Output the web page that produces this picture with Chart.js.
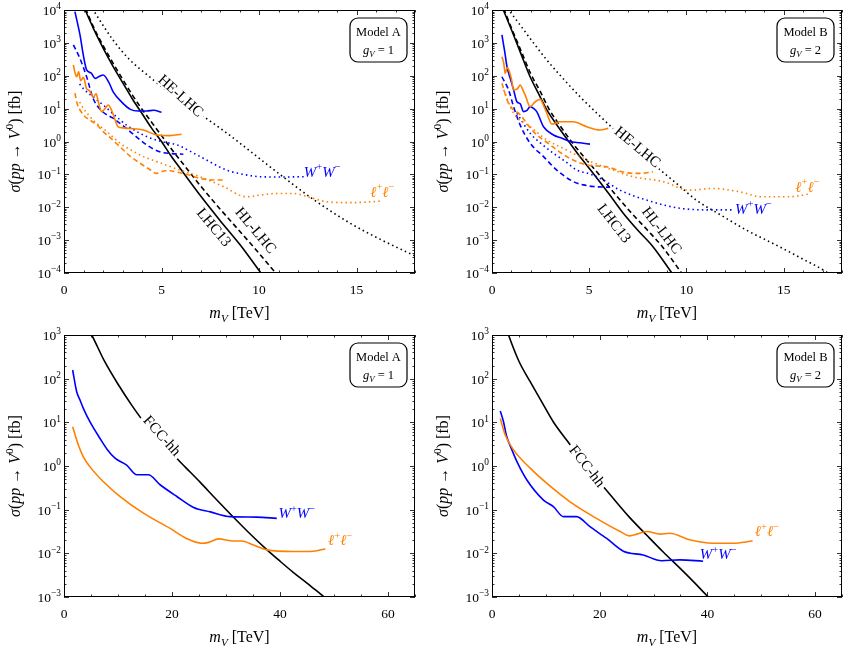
<!DOCTYPE html>
<html><head><meta charset="utf-8">
<script src="https://cdn.jsdelivr.net/npm/chart.js@4.4.1/dist/chart.umd.min.js"></script>
<style>
html,body{margin:0;padding:0;background:#fff;width:850px;height:655px;overflow:hidden}
canvas{position:absolute}
</style></head><body>
<canvas id="c1" width="425" height="327" style="left:0;top:0"></canvas>
<canvas id="c2" width="425" height="327" style="left:425px;top:0"></canvas>
<canvas id="c3" width="425" height="328" style="left:0;top:327px"></canvas>
<canvas id="c4" width="425" height="328" style="left:425px;top:327px"></canvas>
<script>
// ---------------- DATA (mass in TeV, cross section in fb) ----------------
// Model A, LHC panel
const mA_LHC13 = [1.05, 1.5, 2.0, 2.5, 3.0, 3.5, 4.0, 4.5, 5.0, 5.5, 6.0, 7.0, 8.0, 9.0, 10.1];
const sA_LHC13 = [1.12e4, 2820, 708, 200, 63, 20, 7.08, 2.51, 1.0, 0.355, 0.141, 0.0224, 3.98e-3, 7.6e-4, 1e-4];
const mA_HLLHC = [1.1, 1.5, 2.0, 2.5, 3.0, 3.5, 4.0, 4.5, 5.0, 5.5, 6.0, 7.0, 8.0, 9.0, 10.0, 10.85];
const sA_HLLHC = [1.12e4, 3160, 832, 251, 79.4, 26.3, 9.55, 3.8, 1.51, 0.603, 0.251, 0.0447, 8.9e-3, 1.9e-3, 3.98e-4, 1e-4];
const mA_HELHC = [1.45, 2.51, 3.38, 4.41, 5.43, 6.97, 8.35, 9.02, 10.92, 12.76, 14.66, 16.2, 18.0];
const sA_HELHC = [1.1e4, 1230, 302, 91, 30, 6.9, 1.8, 0.89, 0.117, 0.0178, 3.3e-3, 1.07e-3, 3.3e-4];
const mA_WW_now = [0.56, 0.82, 1.0, 1.16, 1.4, 1.59, 1.8, 2.01, 2.3, 2.53, 2.96, 3.4, 3.81, 4.24, 4.6, 5.0];
const sA_WW_now = [8910, 1740, 398, 151, 120, 83, 95, 105, 63, 31.6, 15.8, 9.5, 8.5, 8.5, 8.9, 7.8];
const mA_WW_HL = [0.48, 0.8, 1.16, 1.5, 2.0, 2.5, 3.2, 3.9, 4.5, 5.0, 5.5, 6.12];
const sA_WW_HL = [871, 355, 93, 20, 7.9, 5.2, 2.5, 1.12, 0.63, 0.47, 0.43, 0.41];
const mA_WW_HE = [0.8, 1.0, 1.5, 2.01, 2.6, 3.21, 4.24, 5.0, 5.78, 6.97, 8.34, 9.2, 10.05, 11.2, 12.35];
const sA_WW_HE = [56, 40, 22.4, 12.9, 6.3, 3.16, 1.41, 1.0, 0.79, 0.35, 0.135, 0.1, 0.085, 0.083, 0.085];
const mA_LL_now = [0.48, 0.56, 0.65, 0.75, 0.85, 1.0, 1.16, 1.3, 1.5, 1.65, 1.76, 1.93, 2.1, 2.27, 2.4, 2.53, 2.78, 3.0, 3.38, 4.07, 4.75, 5.43, 6.03];
const sA_LL_now = [214, 126, 93, 132, 71, 89, 40, 35.5, 22.4, 28.2, 16.2, 8.1, 10, 12.9, 10, 6.5, 2.8, 2.6, 2.5, 2.24, 1.58, 1.51, 1.66];
const mA_LL_HL = [0.56, 0.7, 0.82, 1.0, 1.33, 1.7, 2.01, 2.4, 2.87, 3.4, 3.9, 4.4, 4.75, 5.1, 5.43, 5.8, 6.12, 6.97, 7.6, 8.17];
const sA_LL_HL = [29.5, 12.6, 9.1, 6.3, 4.47, 3.16, 2.0, 1.26, 0.69, 0.355, 0.219, 0.141, 0.107, 0.126, 0.129, 0.117, 0.107, 0.0759, 0.0676, 0.0676];
const mA_LL_HE = [0.8, 1.0, 1.5, 2.2, 2.87, 3.5, 4.07, 4.8, 5.43, 6.2, 6.97, 8.17, 9.36, 10.2, 10.9, 11.75, 12.6, 13.46, 14.83, 15.6, 16.28];
const sA_LL_HE = [15.8, 10, 4.47, 2.0, 0.891, 0.525, 0.347, 0.24, 0.174, 0.12, 0.0851, 0.0427, 0.0209, 0.024, 0.0263, 0.0263, 0.02, 0.0148, 0.0138, 0.0145, 0.0155];

// Model B, LHC panel
const mB_LHC13 = [0.55, 1.0, 1.5, 1.96, 2.4, 2.82, 3.4, 4.01, 4.6, 5.21, 6.0, 6.75, 7.5, 8.28, 9.25];
const sB_LHC13 = [1.12e4, 2510, 447, 93.3, 28.2, 9.12, 2.82, 0.891, 0.302, 0.107, 0.0263, 6.61e-3, 2.0e-3, 6.31e-4, 1e-4];
const mB_HLLHC = [0.6, 1.0, 1.5, 2.0, 2.5, 2.92, 3.5, 4.15, 4.8, 5.46, 6.3, 7.18, 8.0, 8.76, 9.75];
const sB_HLLHC = [1.12e4, 2820, 562, 112, 31.6, 10, 3.02, 0.891, 0.302, 0.107, 0.0263, 6.61e-3, 2.0e-3, 6.31e-4, 1e-4];
const mB_HELHC = [0.8, 1.5, 2.2, 2.82, 3.6, 4.53, 5.5, 6.5, 7.5, 8.46, 9.5, 10.5, 11.8, 13.07, 14.78, 16.0, 17.17, 17.6];
const sB_HELHC = [1.12e4, 3160, 891, 302, 89.1, 22.9, 6.31, 1.78, 0.562, 0.17, 0.0525, 0.0166, 5.62e-3, 2.04e-3, 6.31e-4, 2.63e-4, 1.1e-4, 7e-5];
const mB_WW_now = [0.51, 0.65, 0.77, 0.95, 1.11, 1.28, 1.45, 1.62, 1.8, 1.96, 2.15, 2.3, 2.65, 3.16, 3.6, 4.01, 4.53, 5.04];
const sB_WW_now = [1740, 562, 191, 79.4, 37.2, 16.2, 14.1, 8.13, 8.91, 11.5, 10, 8.13, 2.82, 1.58, 1.26, 1.0, 0.912, 0.832];
const mB_WW_HL = [0.51, 0.85, 1.11, 1.45, 1.96, 2.65, 3.33, 4.18, 4.7, 5.21, 6.06];
const sB_WW_HL = [93.3, 37.2, 11.5, 3.16, 0.891, 0.347, 0.135, 0.0603, 0.0479, 0.0427, 0.0407];
const mB_WW_HE = [1.28, 1.96, 2.5, 3.16, 3.8, 4.36, 5.0, 5.72, 6.58, 7.94, 9.65, 11.36, 12.38];
const sB_WW_HE = [7.24, 1.78, 0.891, 0.437, 0.24, 0.135, 0.105, 0.0676, 0.0331, 0.0166, 9.33e-3, 8.32e-3, 8.32e-3];
const mB_LL_now = [0.51, 0.6, 0.68, 0.78, 0.85, 1.0, 1.11, 1.3, 1.45, 1.6, 1.71, 1.96, 2.22, 2.48, 2.65, 2.82, 3.08, 3.5, 4.18, 4.87, 5.55, 5.98];
const sB_LL_now = [380, 251, 117, 178, 158, 79.4, 37.2, 39.8, 52.5, 35.5, 25.7, 11.5, 16.2, 19.1, 12.6, 7.24, 3.39, 3.98, 3.98, 2.82, 2.24, 2.51];
const mB_LL_HL = [0.51, 0.85, 1.45, 2.13, 2.99, 3.84, 4.87, 5.89, 6.92, 7.6, 8.28];
const sB_LL_HL = [58.9, 14.5, 6.46, 2.0, 0.794, 0.347, 0.195, 0.17, 0.112, 0.107, 0.12];
const mB_LL_HE = [0.6, 1.11, 1.96, 2.82, 3.84, 4.87, 6.23, 7.26, 8.8, 10.16, 11.36, 12.74, 13.85, 15.29, 16.31];
const sB_LL_HE = [37.2, 7.24, 2.82, 1.12, 0.55, 0.275, 0.135, 0.0851, 0.0603, 0.0331, 0.0372, 0.0295, 0.0209, 0.0209, 0.0251];

// Model A, FCC-hh panel
const mA_FCC = [4.5, 5.13, 7.5, 10.07, 12.5, 14.7, 17.0, 19.65, 22.5, 25.2, 28.0, 30.8, 34.0, 37.6, 40.0, 42.5, 45.0, 48.1, 48.6];
const sA_FCC = [1350, 1000, 251, 72.4, 25.1, 10.5, 4.79, 2.14, 0.933, 0.427, 0.182, 0.0794, 0.0316, 0.012, 6.61e-3, 3.63e-3, 2.09e-3, 1.02e-3, 9.12e-4];
const mA_WW_FCC = [1.6, 2.35, 3.0, 3.58, 4.82, 6.67, 8.0, 9.45, 11.6, 13.5, 15.6, 17.8, 20.9, 24.0, 27.1, 30.8, 35.7, 39.4];
const sA_WW_FCC = [158, 50.1, 31.6, 20.9, 10.2, 4.27, 2.4, 1.51, 1.05, 0.631, 0.631, 0.372, 0.2, 0.112, 0.0891, 0.0692, 0.0676, 0.0631];
const mA_LL_FCC = [1.6, 2.66, 3.58, 4.82, 7.3, 10.4, 14.7, 19.65, 22.7, 25.5, 26.8, 28.6, 31.4, 32.9, 35.1, 37.6, 42.5, 46.2, 48.4];
const sA_LL_FCC = [7.94, 3.02, 1.62, 0.955, 0.437, 0.2, 0.0832, 0.0372, 0.0219, 0.017, 0.0178, 0.0214, 0.0191, 0.0191, 0.0155, 0.012, 0.011, 0.0112, 0.0126];

// Model B, FCC-hh panel
const mB_FCC = [2.8, 3.07, 5.0, 7.09, 9.0, 11.4, 14.0, 16.35, 19.5, 22.5, 25.5, 28.7, 31.8, 34.9, 37.5, 40.1, 40.5];
const sB_FCC = [1260, 1000, 251, 85.1, 33.1, 10.2, 3.72, 1.51, 0.501, 0.182, 0.0676, 0.0263, 0.0107, 4.57e-3, 2.19e-3, 1.02e-3, 9.12e-4];
const mB_WW_FCC = [1.54, 2.15, 2.65, 3.7, 4.63, 6.48, 9.56, 11.4, 13.3, 15.7, 18.2, 21.3, 24.4, 28.1, 31.5, 34.9, 39.2];
const sB_WW_FCC = [18.2, 10.2, 5.13, 2.34, 1.26, 0.479, 0.166, 0.117, 0.0692, 0.0692, 0.0407, 0.0219, 0.0112, 9.12e-3, 6.76e-3, 7.08e-3, 6.61e-3];
const mB_LL_FCC = [1.54, 2.46, 4.0, 7.09, 10.2, 14.5, 19.4, 23.8, 25.6, 26.9, 28.7, 31.2, 33.0, 36.7, 41.0, 44.7, 48.4];
const sB_LL_FCC = [12.3, 5.13, 2.34, 0.891, 0.398, 0.151, 0.0631, 0.0316, 0.0251, 0.0275, 0.0316, 0.0275, 0.0288, 0.0204, 0.017, 0.017, 0.0191];

// axis ticks
const xTicksLHC = [0, 5, 10, 15];
const xTicksFCC = [0, 20, 40, 60];
const yExpLHC = [-4, -3, -2, -1, 0, 1, 2, 3, 4];
const yExpFCC = [-3, -2, -1, 0, 1, 2, 3];
const modelNames = ['Model A', 'Model B'];
const gValues = ['1', '2'];

// ---------------- STYLE ----------------
const FF = '"Liberation Serif","DejaVu Serif",serif';
const BLUE = 'rgb(0,0,255)', ORANGE = 'rgb(255,128,0)', BLACK = '#000';
const DASH = [5, 3.2], DOT = [1.5, 3.2];

function series(xs, ys, color, dash) {
  return { data: xs.map((x, i) => ({ x: x, y: ys[i] })), borderColor: color, borderWidth: 1.6,
    borderDash: dash || [], pointRadius: 0, fill: false, cubicInterpolationMode: 'monotone' };
}
function segFont(s, size) {
  const sz = (s.sup || s.sub) ? size * 0.7 : size;
  return (s.i ? 'italic ' : '') + sz.toFixed(1) + 'px ' + FF;
}
function richWidth(ctx, segs, size) {
  let w = 0;
  for (const s of segs) { ctx.font = segFont(s, size); w += ctx.measureText(s.t).width; }
  return w;
}
function drawRich(ctx, segs, x, y, size, color, align) {
  const w = richWidth(ctx, segs, size);
  let cx = align === 'center' ? x - w / 2 : align === 'right' ? x - w : x;
  ctx.fillStyle = color; ctx.textBaseline = 'alphabetic';
  for (const s of segs) {
    ctx.font = segFont(s, size);
    const dy = s.sup ? -size * 0.42 : s.sub ? size * 0.22 : 0;
    ctx.fillText(s.t, cx, y + dy);
    cx += ctx.measureText(s.t).width;
  }
}
const WW = [{ t: 'W', i: true }, { t: '+', sup: true }, { t: 'W', i: true }, { t: '\u2212', sup: true }];
const LL = [{ t: '\u2113', i: true }, { t: '+', sup: true }, { t: '\u2113', i: true }, { t: '\u2212', sup: true }];
const txt = s => [{ t: s }];

function makePanel(P) {
  const plugin = {
    id: 'panel' + P.id,
    afterDatasetsDraw(chart) {
      const ctx = chart.ctx, a = chart.chartArea, xs = chart.scales.x, ys = chart.scales.y;
      ctx.save();
      // curve labels
      for (const L of P.labels) {
        const px = xs.getPixelForValue(L.x), py = ys.getPixelForValue(L.y);
        ctx.save(); ctx.translate(px, py); ctx.rotate((L.rot || 0) * Math.PI / 180);
        if (L.bg) {
          const w = richWidth(ctx, L.segs, L.size);
          ctx.fillStyle = '#fff';
          ctx.fillRect(-w / 2 - 3, -L.size * 0.45, w + 6, L.size * 0.9);
        }
        drawRich(ctx, L.segs, 0, L.size * 0.33, L.size, L.color, L.align || 'center');
        ctx.restore();
      }
      // frame
      ctx.strokeStyle = '#000'; ctx.lineWidth = 1;
      ctx.strokeRect(a.left + 0.5, a.top + 0.5, a.right - a.left - 1, a.bottom - a.top - 1);
      // ticks
      ctx.lineWidth = 0.8; ctx.beginPath();
      for (let v = 0; v <= P.xMax + 1e-9; v += P.xMinor) {
        const px = Math.round(xs.getPixelForValue(v)) + 0.5;
        const len = (Math.abs(v / P.xMajor - Math.round(v / P.xMajor)) < 1e-6) ? 5 : 2.5;
        ctx.moveTo(px, a.bottom); ctx.lineTo(px, a.bottom - len);
        ctx.moveTo(px, a.top); ctx.lineTo(px, a.top + len);
      }
      for (let k = P.yExp[0]; k <= P.yExp[P.yExp.length - 1]; k++) {
        for (let m = 1; m <= 9; m++) {
          const v = m * Math.pow(10, k);
          if (v > P.yMax * 1.0001) break;
          const py = Math.round(ys.getPixelForValue(v)) + 0.5;
          const len = m === 1 ? 5 : 2.5;
          ctx.moveTo(a.left, py); ctx.lineTo(a.left + len, py);
          ctx.moveTo(a.right, py); ctx.lineTo(a.right - len, py);
        }
      }
      ctx.stroke();
      // tick labels
      for (const v of P.xTicks) {
        drawRich(ctx, txt(String(v)), xs.getPixelForValue(v), a.bottom + 21, 13.5, '#000', 'center');
      }
      for (const e of P.yExp) {
        const py = ys.getPixelForValue(Math.pow(10, e));
        const es = e < 0 ? '\u2212' + (-e) : String(e);
        drawRich(ctx, [{ t: '10' }, { t: es, sup: true }], a.left - 3, py + 5, 13.5, '#000', 'right');
      }
      // axis titles
      drawRich(ctx, [{ t: 'm', i: true }, { t: 'V', i: true, sub: true }, { t: ' [TeV]' }],
        (a.left + a.right) / 2, a.bottom + 45, 16, '#000', 'center');
      ctx.save(); ctx.translate(a.left - 44, (a.top + a.bottom) / 2); ctx.rotate(-Math.PI / 2);
      drawRich(ctx, [{ t: '\u03C3', i: true }, { t: '(' }, { t: 'pp', i: true }, { t: ' \u2192 ' },
        { t: 'V', i: true }, { t: '0', sup: true }, { t: ') [fb]' }], 0, 0, 16, '#000', 'center');
      ctx.restore();
      // model box
      const bw = 57, bh = 44, bx = a.right - 8 - bw, by = a.top + 8;
      ctx.beginPath(); ctx.lineWidth = 1.2; ctx.strokeStyle = '#000'; ctx.fillStyle = '#fff';
      ctx.roundRect(bx, by, bw, bh, 8); ctx.fill(); ctx.stroke();
      drawRich(ctx, txt(P.model), bx + bw / 2, by + 18, 12.5, '#000', 'center');
      drawRich(ctx, [{ t: 'g', i: true }, { t: 'V', i: true, sub: true }, { t: ' = ' + P.g }], bx + bw / 2, by + 36, 12.5, '#000', 'center');
      ctx.restore();
    }
  };
  return new Chart(document.getElementById(P.id), {
    type: 'line',
    data: { datasets: P.datasets },
    options: {
      responsive: false, animation: false, devicePixelRatio: 1,
      layout: { padding: P.pad },
      scales: {
        x: { type: 'linear', min: 0, max: P.xMax, ticks: { display: false }, grid: { display: false },
             border: { display: false }, afterFit(s) { s.height = P.xH; } },
        y: { type: 'logarithmic', min: P.yMin, max: P.yMax, ticks: { display: false }, grid: { display: false },
             border: { display: false }, afterFit(s) { s.width = P.yW; } }
      },
      plugins: { legend: { display: false }, tooltip: { enabled: false } }
    },
    plugins: [plugin]
  });
}

makePanel({
  id: 'c1', pad: { left: 0, right: 10, top: 10, bottom: 0 }, yW: 64, xH: 54,
  xMax: 18, xMajor: 5, xMinor: 1, xTicks: xTicksLHC, yMin: 1e-4, yMax: 1e4, yExp: yExpLHC,
  model: modelNames[0], g: gValues[0],
  datasets: [
    series(mA_LL_HE, sA_LL_HE, ORANGE, DOT), series(mA_LL_HL, sA_LL_HL, ORANGE, DASH), series(mA_LL_now, sA_LL_now, ORANGE),
    series(mA_WW_HE, sA_WW_HE, BLUE, DOT), series(mA_WW_HL, sA_WW_HL, BLUE, DASH), series(mA_WW_now, sA_WW_now, BLUE),
    series(mA_HELHC, sA_HELHC, BLACK, DOT), series(mA_HLLHC, sA_HLLHC, BLACK, DASH), series(mA_LHC13, sA_LHC13, BLACK)
  ],
  labels: [
    { segs: txt('HE-LHC'), x: 6.0, y: 25, rot: 42, size: 15, color: '#000', bg: true },
    { segs: txt('LHC13'), x: 7.7, y: 2.5e-3, rot: 50, size: 15, color: '#000' },
    { segs: txt('HL-LHC'), x: 9.85, y: 2.0e-3, rot: 50, size: 15, color: '#000' },
    { segs: WW, x: 12.3, y: 0.12, size: 15, color: BLUE, align: 'left' },
    { segs: LL, x: 15.7, y: 0.03, size: 15, color: ORANGE, align: 'left' }
  ]
});
makePanel({
  id: 'c2', pad: { left: 0, right: 8, top: 10, bottom: 0 }, yW: 67, xH: 54,
  xMax: 18, xMajor: 5, xMinor: 1, xTicks: xTicksLHC, yMin: 1e-4, yMax: 1e4, yExp: yExpLHC,
  model: modelNames[1], g: gValues[1],
  datasets: [
    series(mB_LL_HE, sB_LL_HE, ORANGE, DOT), series(mB_LL_HL, sB_LL_HL, ORANGE, DASH), series(mB_LL_now, sB_LL_now, ORANGE),
    series(mB_WW_HE, sB_WW_HE, BLUE, DOT), series(mB_WW_HL, sB_WW_HL, BLUE, DASH), series(mB_WW_now, sB_WW_now, BLUE),
    series(mB_HELHC, sB_HELHC, BLACK, DOT), series(mB_HLLHC, sB_HLLHC, BLACK, DASH), series(mB_LHC13, sB_LHC13, BLACK)
  ],
  labels: [
    { segs: txt('HE-LHC'), x: 7.5, y: 0.7, rot: 40, size: 15, color: '#000', bg: true },
    { segs: txt('LHC13'), x: 6.3, y: 3.3e-3, rot: 52, size: 15, color: '#000' },
    { segs: txt('HL-LHC'), x: 8.75, y: 2.0e-3, rot: 52, size: 15, color: '#000' },
    { segs: WW, x: 12.5, y: 9e-3, size: 15, color: BLUE, align: 'left' },
    { segs: LL, x: 15.6, y: 0.042, size: 15, color: ORANGE, align: 'left' }
  ]
});
makePanel({
  id: 'c3', pad: { left: 0, right: 10, top: 8, bottom: 0 }, yW: 64, xH: 58,
  xMax: 65, xMajor: 20, xMinor: 5, xTicks: xTicksFCC, yMin: 1e-3, yMax: 1e3, yExp: yExpFCC,
  model: modelNames[0], g: gValues[0],
  datasets: [
    series(mA_LL_FCC, sA_LL_FCC, ORANGE), series(mA_WW_FCC, sA_WW_FCC, BLUE), series(mA_FCC, sA_FCC, BLACK)
  ],
  labels: [
    { segs: txt('FCC-hh'), x: 18.2, y: 5.0, rot: 48, size: 15, color: '#000', bg: true },
    { segs: WW, x: 39.7, y: 0.083, size: 15, color: BLUE, align: 'left' },
    { segs: LL, x: 48.9, y: 0.02, size: 15, color: ORANGE, align: 'left' }
  ]
});
makePanel({
  id: 'c4', pad: { left: 0, right: 8, top: 8, bottom: 0 }, yW: 67, xH: 58,
  xMax: 65, xMajor: 20, xMinor: 5, xTicks: xTicksFCC, yMin: 1e-3, yMax: 1e3, yExp: yExpFCC,
  model: modelNames[1], g: gValues[1],
  datasets: [
    series(mB_LL_FCC, sB_LL_FCC, ORANGE), series(mB_WW_FCC, sB_WW_FCC, BLUE), series(mB_FCC, sB_FCC, BLACK)
  ],
  labels: [
    { segs: txt('FCC-hh'), x: 17.7, y: 1.0, rot: 52, size: 15, color: '#000', bg: true },
    { segs: WW, x: 38.6, y: 9.5e-3, size: 15, color: BLUE, align: 'left' },
    { segs: LL, x: 48.8, y: 0.032, size: 15, color: ORANGE, align: 'left' }
  ]
});
</script>
</body></html>
